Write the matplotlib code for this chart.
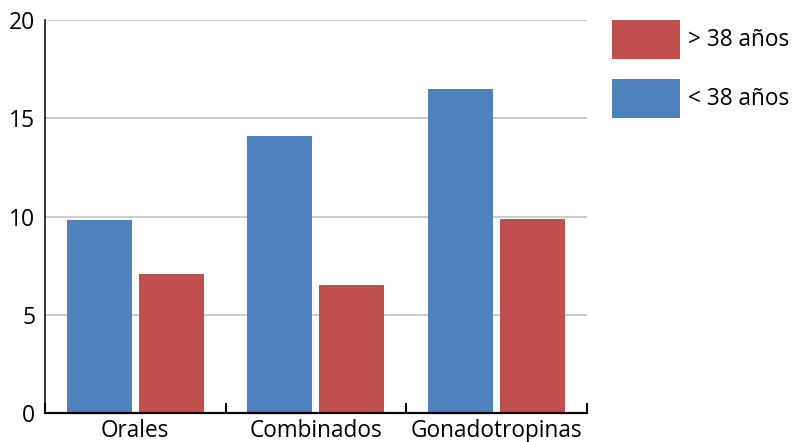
import matplotlib
matplotlib.use("Agg")
import matplotlib.pyplot as plt
import numpy as np

# datos
categorias = ['Orales', 'Combinados', 'Gonadotropinas']
menor_38 = [9.8, 14.1, 16.5]
mayor_38 = [7.1, 6.5, 9.9]

azul = '#4F81BD'
rojo = '#C0504D'

plt.rcParams['font.family'] = ['Open Sans', 'DejaVu Sans']

fig = plt.figure(figsize=(7.93, 4.42), dpi=100)
ax = fig.add_axes([0.0567, 0.0656, 0.683, 0.889])

x = np.arange(len(categorias))
ancho = 0.36
b1 = ax.bar(x - 0.2, menor_38, ancho, color=azul, zorder=3)
b2 = ax.bar(x + 0.2, mayor_38, ancho, color=rojo, zorder=3)

ax.set_xlim(-0.5, len(categorias) - 0.5)
ax.set_ylim(0, 20)
ax.set_yticks([0, 5, 10, 15, 20])
ax.yaxis.grid(True, color='#c8c8c8', linewidth=1.3, zorder=0)
ax.set_axisbelow(True)

# marcas en los limites de categoria, etiquetas al centro
ax.set_xticks(np.arange(-0.5, len(categorias), 1.0))
ax.set_xticklabels([])
ax.set_xticks(x, minor=True)
ax.set_xticklabels(categorias, minor=True, fontsize=16.3)
ax.tick_params(axis='x', which='major', direction='in', length=7, width=1.5, color='black')
ax.tick_params(axis='x', which='minor', length=0, pad=4.5)
ax.tick_params(axis='y', length=0, pad=7, labelsize=16.5)

for s in ['top', 'right']:
    ax.spines[s].set_visible(False)
ax.spines['left'].set_linewidth(1.1)
ax.spines['bottom'].set_linewidth(1.6)
ax.spines['left'].set_zorder(4)
ax.spines['bottom'].set_zorder(4)

fig.legend([b2, b1], ['> 38 años', '< 38 años'],
           loc='upper left', bbox_to_anchor=(0.772, 0.955),
           frameon=False, fontsize=16.3, borderpad=0, borderaxespad=0,
           handlelength=3.0, handleheight=2.26, handletextpad=0.36,
           labelspacing=0.89)

fig.savefig('out.png', dpi=100)
